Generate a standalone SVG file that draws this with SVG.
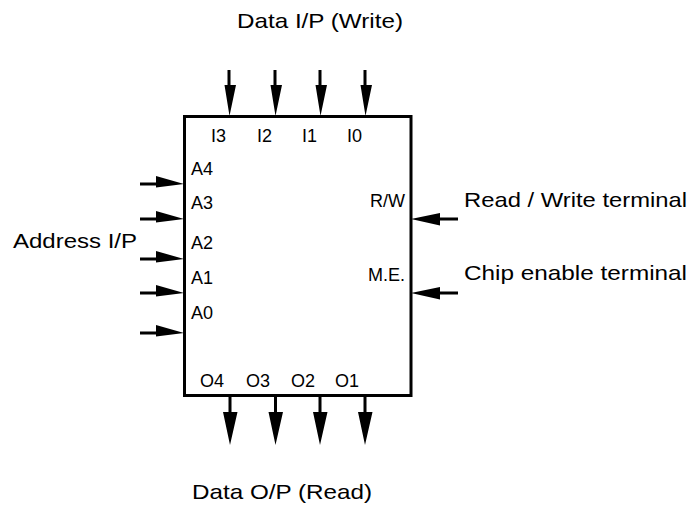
<svg xmlns="http://www.w3.org/2000/svg" width="695" height="508" viewBox="0 0 695 508">
<style>
text{font-family:"Liberation Sans",Arial,Helvetica,sans-serif;fill:#000}
.o{font-size:21px}
.i{font-size:18px}
.sh{stroke:#000;stroke-width:3;fill:none}
.hd{fill:#000;stroke:none}
.box{fill:#fff;stroke:#000;stroke-width:3}
</style>
<rect width="695" height="508" fill="#fff"/>
<g id="memory-chip">
<rect class="box" x="184.5" y="116.5" width="226.5" height="279"/>
<text class="i" x="211" y="142">I3</text>
<text class="i" x="257" y="142">I2</text>
<text class="i" x="302" y="142">I1</text>
<text class="i" x="347" y="142">I0</text>
<text class="i" x="191" y="175">A4</text>
<text class="i" x="191" y="209">A3</text>
<text class="i" x="191" y="249">A2</text>
<text class="i" x="191" y="284">A1</text>
<text class="i" x="191" y="319">A0</text>
<text class="i" x="405" y="207" text-anchor="end">R/W</text>
<text class="i" x="405" y="281" text-anchor="end">M.E.</text>
<text class="i" x="200" y="387">O4</text>
<text class="i" x="246" y="387">O3</text>
<text class="i" x="291" y="387">O2</text>
<text class="i" x="335" y="387">O1</text>
</g>
<g id="labels">
<text class="o" x="237" y="28" textLength="166" lengthAdjust="spacingAndGlyphs">Data I/P (Write)</text>
<text class="o" x="13" y="248" textLength="124" lengthAdjust="spacingAndGlyphs">Address I/P</text>
<text class="o" x="464" y="207" textLength="223" lengthAdjust="spacingAndGlyphs">Read / Write terminal</text>
<text class="o" x="464" y="280" textLength="223" lengthAdjust="spacingAndGlyphs">Chip enable terminal</text>
<text class="o" x="192" y="499" textLength="180" lengthAdjust="spacingAndGlyphs">Data O/P (Read)</text>
</g>
<g id="connectors">
<!-- top data inputs -->
<path class="sh" d="M229 70V100M275 70V100M320 70V100M365 70V100"/>
<path class="hd" d="M224.5 85H236L229.5 116ZM270.5 85H282L275.5 116ZM315.5 85H327L320.5 116ZM360.5 85H372L365.5 116Z"/>
<!-- address inputs -->
<path class="sh" d="M140 184H165M140 219H165M140 259H165M140 293H165M140 333H165"/>
<path class="hd" d="M156 176V187.5L184 184ZM156 211V222.5L184 219ZM156 251V262.5L184 259ZM156 285V296.5L184 293ZM156 325V336.5L184 333Z"/>
<!-- right control inputs -->
<path class="sh" d="M458 219H430M458 293H430"/>
<path class="hd" d="M440 213V225.5L411 219ZM440 287V299.5L411 293Z"/>
<!-- bottom data outputs -->
<path class="sh" d="M230 396V425M275.5 396V425M320 396V425M365 396V425"/>
<path class="hd" d="M223 412H237.5L230 445ZM268.5 412H283L275.5 445ZM313 412H327.5L320 445ZM358 412H372.5L365 445Z"/>
</g>
</svg>
